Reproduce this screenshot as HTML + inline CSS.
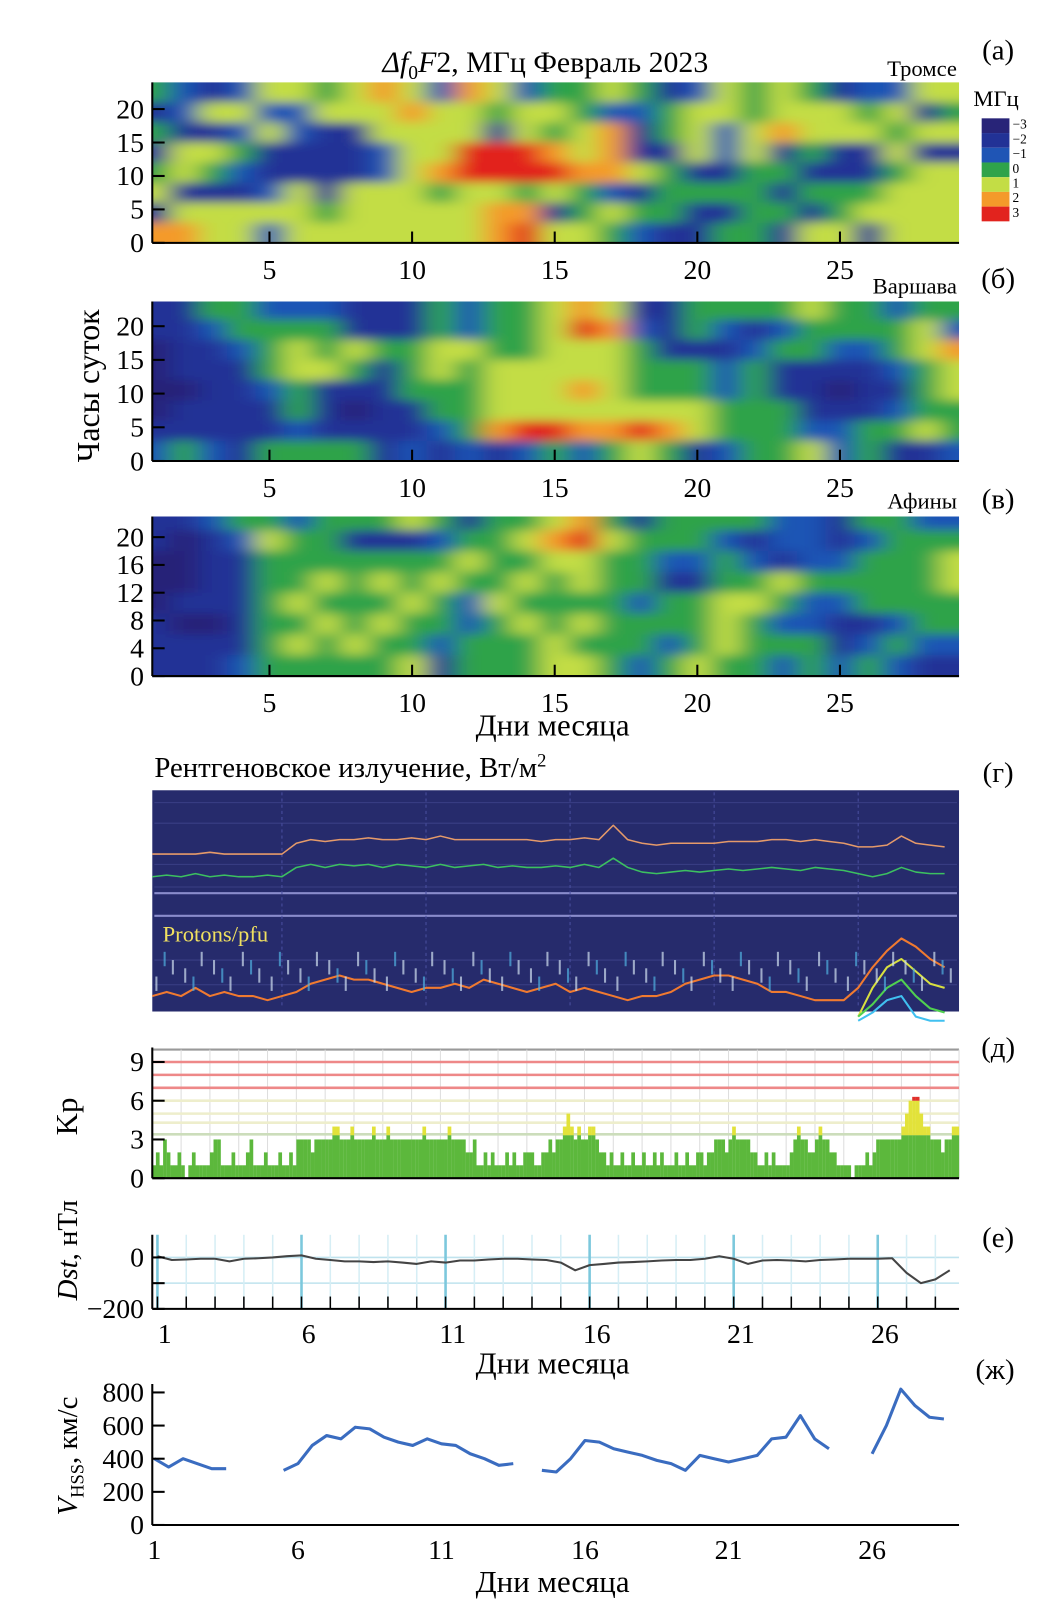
<!DOCTYPE html>
<html><head><meta charset="utf-8"><style>
body{margin:0;background:#fff;}
svg{display:block;font-family:"Liberation Serif","Noto Serif CJK SC",serif;}
</style></head><body>
<svg id="fig" width="1057" height="1610" viewBox="0 0 1057 1610">
<defs>
<filter id="blur" filterUnits="userSpaceOnUse" x="0" y="0" width="1057" height="1610"><feGaussianBlur stdDeviation="12 5"/></filter>
<clipPath id="clipA"><rect x="148" y="80" width="784" height="157"/></clipPath>
<clipPath id="clipB"><rect x="148" y="293" width="784" height="156"/></clipPath>
<clipPath id="clipC"><rect x="148" y="502" width="784" height="156"/></clipPath>
</defs>
<g id="root" transform="scale(1.029)">
<text x="530" y="70" font-size="29" text-anchor="middle"><tspan font-style="italic">Δf</tspan><tspan font-size="19" dy="7">0</tspan><tspan dy="-7" font-style="italic">F</tspan>2, МГц   Февраль 2023</text>
<text x="930" y="74" font-size="22" text-anchor="end">Тромсе</text>
<text x="970" y="58" font-size="28" text-anchor="middle">(а)</text>
<text x="930" y="285" font-size="22" text-anchor="end">Варшава</text>
<text x="970" y="280" font-size="28" text-anchor="middle">(б)</text>
<text x="930" y="494" font-size="22" text-anchor="end">Афины</text>
<text x="970" y="494" font-size="28" text-anchor="middle">(в)</text>
<text x="0" y="0" font-size="31" text-anchor="middle" transform="translate(96,375) rotate(-90)">Часы суток</text>
<text x="537" y="715" font-size="30" text-anchor="middle">Дни месяца</text>
<text x="150" y="755" font-size="28">Рентгеновское излучение, Вт/м<tspan font-size="18" dy="-10">2</tspan></text>
<text x="970" y="760" font-size="28" text-anchor="middle">(г)</text>
<text x="970" y="1027" font-size="28" text-anchor="middle">(д)</text>
<text x="0" y="0" font-size="30" text-anchor="middle" transform="translate(75,1085) rotate(-90)">Kp</text>
<text x="970" y="1212" font-size="28" text-anchor="middle">(е)</text>
<text x="0" y="0" font-size="28" text-anchor="middle" transform="translate(75,1215) rotate(-90)"><tspan font-style="italic">Dst</tspan>, нТл</text>
<text x="537" y="1335" font-size="30" text-anchor="middle">Дни месяца</text>
<text x="967" y="1340" font-size="28" text-anchor="middle">(ж)</text>
<text x="0" y="0" font-size="28" text-anchor="middle" transform="translate(75,1415) rotate(-90)"><tspan font-style="italic">V</tspan><tspan font-size="18" dy="6">HSS</tspan><tspan dy="-6">, км/с</tspan></text>
<text x="537" y="1547" font-size="30" text-anchor="middle">Дни месяца</text>
</g>
</svg>
<script>
// ---- heatmap data (rows top = hour 22.5 ... bottom = hour 1.5), columns days 1..29
const tromsoRows = [
[0,-1,-2,-1,1,1,0,1,2,1,-1,2,1,-1,0,0,1,0,-2,-1,1,0,1,0,-2,-1,-1,1,1],
[-2,-1,1,1,-1,-1,1,1,1,2,1,1,0,1,1,0,-1,-1,0,1,1,0,1,1,1,0,1,-2,0],
[0,-2,-2,-1,1,-1,-2,-2,1,1,1,1,-2,1,0,1,2,-2,0,1,-1,1,2,1,1,1,0,1,1],
[-2,1,1,0,-2,-2,-2,-2,-1,1,1,3,3,3,2,1,2,-2,-2,1,-1,1,-2,0,-2,-2,1,-2,-2],
[0,1,0,-1,-2,-2,-2,-2,-1,1,2,3,3,3,3,2,2,1,0,-2,-2,0,0,-2,-2,-2,0,1,1],
[1,-2,-2,-2,-1,1,-2,1,1,1,0,1,1,0,1,0,-1,-2,0,0,0,0,-2,0,0,0,1,1,1],
[-2,1,1,1,1,1,0,1,1,1,1,1,2,2,-2,0,1,0,0,-2,-2,0,0,-2,0,1,1,1,1],
[2,2,1,1,-1,1,1,1,1,1,1,1,2,3,1,1,0,-1,-2,-2,0,0,-2,1,1,-2,1,1,1]];
const warsawRows = [
[-2,-2,0,0,-1,-1,-1,-2,-2,-2,0,-1,0,0,1,2,1,-2,-2,0,0,0,0,1,0,0,-1,0,0],
[-2,-2,-1,0,0,0,0,-2,-2,-2,0,-1,0,0,1,3,2,-1,-2,0,-1,-2,-1,0,0,0,0,1,-1],
[-3,-2,-2,-1,0,1,0,1,0,0,1,1,0,0,1,1,1,0,-2,-2,-2,-1,0,0,-1,-1,0,1,2],
[-3,-2,-2,-2,0,1,1,0,-2,0,1,0,1,1,1,1,1,0,0,0,-1,0,-2,-2,-2,-2,-1,0,1],
[-3,-3,-2,-2,-1,0,-2,-2,-2,0,0,0,1,1,1,2,1,0,0,0,-1,0,-2,-2,-3,-2,-2,0,1],
[-3,-2,-2,-2,-2,0,-2,-3,-2,-2,0,0,1,1,1,1,1,1,1,1,0,0,0,-2,-2,-2,-1,0,0],
[-2,-2,-2,-2,-2,-1,-2,-2,-2,-2,-1,0,2,3,3,2,2,3,2,1,0,0,0,-1,-1,0,0,1,0],
[-1,0,-1,-2,0,0,0,0,-2,-1,-2,-1,-2,-1,0,-1,0,1,0,-2,-1,0,0,1,-1,0,-2,-2,-1]];
const athensRows = [
[-2,-2,-1,0,0,-1,0,0,0,1,0,-2,0,0,1,2,0,-2,0,0,0,0,-1,-1,-2,0,0,-1,-1],
[-2,-3,-2,-1,1,0,0,-2,-2,-2,-1,0,0,1,2,3,1,0,0,0,-1,-2,-1,-1,-2,-1,0,0,0],
[-3,-3,-2,-2,0,0,0,0,0,0,0,1,0,0,1,1,0,0,-1,-1,0,-1,-2,-1,-1,0,0,0,1],
[-3,-3,-2,-2,0,0,1,0,1,0,1,0,0,1,0,1,0,0,-2,-2,0,0,1,0,0,0,0,0,1],
[-3,-2,-2,-2,0,1,0,0,0,1,0,-1,1,0,0,0,0,-1,0,0,1,1,0,-1,-1,0,0,0,0],
[-2,-3,-3,-2,0,0,1,0,1,0,0,-1,0,1,0,1,0,0,0,0,1,0,-1,-1,-2,-2,-1,0,0],
[-2,-2,-2,-2,0,1,0,1,0,0,-1,0,0,0,1,0,0,0,-1,0,1,0,0,0,-2,-1,0,-1,-1],
[-2,-2,-2,-1,0,0,0,0,0,1,-2,0,0,0,1,1,0,-1,0,1,0,0,-1,0,-1,0,-1,-2,-2]];
const hmTicksA = [0,5,10,15,20];
const hmTicksC = [0,4,8,12,16,20];
const dayTicks = [5,10,15,20,25];
const cbLabels = [-3,-2,-1,0,1,2,3];
// ---- Kp (8 three-hour values per day, days 1..28)
const kpDays = [
[1,2,1,3,2,1,1,2],[1,0,1,2,1,1,1,1],[2,3,3,1,1,1,2,1],[1,1,2,3,1,1,1,2],[1,1,1,2,1,1,2,1],
[3,3,3,3,2,3,3,3],[3,3,4,4,3,3,3,4],[3,3,3,3,3,4,3,3],[3,4,3,3,3,3,3,3],[3,3,3,4,3,3,3,3],
[3,3,4,3,3,3,3,2],[2,3,1,1,2,1,2,1],[1,1,2,1,2,1,1,2],[2,2,1,1,2,2,3,2],[3,3,4,5,4,3,4,3],
[3,4,4,3,2,2,1,2],[1,1,2,1,1,2,1,1],[2,1,1,2,1,2,1,1],[1,2,1,1,2,1,1,2],[2,1,2,2,3,3,3,2],
[3,4,3,3,3,3,2,2],[1,1,2,1,2,1,1,1],[1,2,3,4,3,3,2,2],[3,4,3,3,2,2,1,1],[1,1,0,1,1,1,2,1],
[2,3,3,3,3,3,3,3],[4,5,6,6.3,6.3,5,4,4],[3,3,3,2,3,3,4,4]];
const kpTicks = [0,3,6,9];
// ---- Dst (half-day values, nT)
const dstVals = [5,-10,-8,-5,-5,-15,-5,-3,0,5,8,-5,-10,-15,-15,-18,-15,-20,-25,-15,-20,-12,-12,-8,-5,-5,-8,-10,-20,-50,-30,-25,-20,-18,-15,-12,-10,-10,-5,5,-5,-25,-12,-10,-12,-15,-10,-8,-5,-5,-5,-3,-60,-100,-85,-50];
const dstTicks = [0,-200];
const dayTicks2 = [1,6,11,16,21,26];
// ---- Solar wind speed (half-day values, km/s; null = gap)
const vVals = [400,350,400,370,340,340,null,null,null,330,370,480,540,520,590,580,530,500,480,520,490,480,430,400,360,370,null,330,320,400,510,500,460,440,420,390,370,330,420,400,380,400,420,520,530,660,520,460,null,null,430,600,820,720,650,640];
const vTicks = [0,200,400,600,800];
// ---- X-ray / protons (log10 values, half-day)
const xLong = [-6.4,-6.4,-6.4,-6.4,-6.35,-6.4,-6.4,-6.4,-6.4,-6.4,-6.1,-6.0,-6.05,-6.0,-6.0,-5.95,-6.0,-6.0,-5.95,-6.0,-5.9,-6.0,-6.0,-6.0,-6.0,-6.0,-6.0,-6.05,-6.0,-6.0,-5.95,-6.0,-5.6,-6.0,-6.1,-6.15,-6.1,-6.1,-6.1,-6.1,-6.05,-6.05,-6.05,-6.0,-6.0,-6.05,-6.0,-6.05,-6.1,-6.2,-6.2,-6.15,-5.9,-6.1,-6.15,-6.2];
const xShort = [-7.6,-7.55,-7.6,-7.5,-7.6,-7.55,-7.6,-7.6,-7.55,-7.6,-7.3,-7.2,-7.3,-7.2,-7.25,-7.2,-7.3,-7.2,-7.25,-7.3,-7.2,-7.3,-7.25,-7.2,-7.3,-7.25,-7.3,-7.3,-7.25,-7.3,-7.2,-7.3,-7.0,-7.3,-7.45,-7.5,-7.45,-7.4,-7.45,-7.4,-7.35,-7.4,-7.35,-7.3,-7.35,-7.4,-7.3,-7.35,-7.4,-7.5,-7.6,-7.5,-7.3,-7.45,-7.5,-7.5];
const protons = [0.1,0.2,0.1,0.3,0.1,0.2,0.1,0.1,0,0.1,0.2,0.4,0.5,0.6,0.5,0.5,0.4,0.3,0.2,0.3,0.3,0.4,0.3,0.5,0.4,0.3,0.2,0.3,0.4,0.2,0.3,0.2,0.1,0,0.1,0.1,0.2,0.4,0.5,0.6,0.6,0.5,0.4,0.2,0.2,0.1,0,0,0,0.3,0.8,1.2,1.5,1.3,1.0,0.8];
const protonsHiT = [25.5,26,26.5,27,27.5,28,28.5];
const protonsHi1 = [-0.4,0.3,0.8,1.0,0.7,0.4,0.3];
const protonsHi2 = [-0.4,-0.1,0.3,0.5,0.1,-0.2,-0.3];
const protonsHi3 = [-0.5,-0.3,0.0,0.1,-0.4,-0.5,-0.5];

const NS='http://www.w3.org/2000/svg';
const root=document.getElementById('root');
function mk(tag,attrs,parent){const e=document.createElementNS(NS,tag);for(const k in attrs)e.setAttribute(k,attrs[k]);(parent||root).appendChild(e);return e;}
function txt(x,y,s,size,anchor,parent){const t=mk('text',{x:x,y:y,'font-size':size,'text-anchor':anchor||'middle'},parent);t.textContent=s;return t;}

const stops=[[-3,[40,36,120]],[-2,[34,50,150]],[-1,[31,85,181]],[0,[47,163,74]],[0.7,[150,205,60]],[1.2,[225,232,75]],[2,[244,154,42]],[3,[226,35,30]]];
function cmap(v){v=Math.max(-3,Math.min(3,v));for(let i=0;i<stops.length-1;i++){const a=stops[i],b=stops[i+1];if(v<=b[0]){const f=(v-a[0])/(b[0]-a[0]);const c=a[1].map((x,j)=>Math.round(x+(b[1][j]-x)*f));return 'rgb('+c.join(',')+')';}}return 'rgb(226,35,30)';}

const hx=d=>151+(d-1)*27.72;
function heatmap(name,rows,clip,top,y0,y1,ticks,pxPerH){
  const g=mk('g',{'clip-path':'url(#'+clip+')'});
  
  
  const gb=mk('g',{filter:'url(#blur)'},g);
  const nR=rows.length,h=(y0-top)/nR;
  rows.forEach((row,r)=>{row.forEach((v,c)=>{
    let x=hx(c+1)-13.86,w=27.72,y=top+r*h,hh=h;
    if(c===0){x-=40;w+=40;} if(c===row.length-1)w+=40;
    if(r===0){y-=30;hh+=30;} if(r===nR-1)hh+=30;
    const cell=mk('rect',{x:x,y:y,width:w+0.6,height:hh+0.6,fill:cmap(v)},gb);
    
    
  });});
  mk('line',{x1:148,y1:y1,x2:148,y2:y0,stroke:'#000','stroke-width':2});
  mk('line',{x1:148,y1:y0,x2:932,y2:y0,stroke:'#000','stroke-width':2});
  ticks.forEach(t=>{const y=y0-t*pxPerH;mk('line',{x1:148,y1:y,x2:160,y2:y,stroke:'#000','stroke-width':2});
    const l=txt(140,y+9,String(t),27,'end');});
  dayTicks.forEach(d=>{const x=hx(d);mk('line',{x1:x,y1:y0,x2:x,y2:y0-11,stroke:'#000','stroke-width':2});
    const l=txt(x,y0+35,String(d),27);});
}
heatmap('tromso',tromsoRows,'clipA',80,236,80,hmTicksA,6.5);
heatmap('warsaw',warsawRows,'clipB',291,448,293,hmTicksA,6.55);
heatmap('athens',athensRows,'clipC',495,657,502,hmTicksC,6.75);

// colorbar
const cb=mk('g',{});


txt(968,103,'МГц',22,'middle',cb);
cbLabels.forEach((v,i)=>{const y=115+i*14.3;mk('rect',{x:954,y:y,width:27,height:14.3,fill:cmap(v)},cb);
  txt(984,y+10,v<0?'−'+(-v):String(v),13,'start',cb);});

// X-ray panel
const xx=t=>148+(t-1)*28;
const xr=mk('g',{});


mk('rect',{x:148,y:768,width:784,height:215,fill:'#262b6c'},xr);
[780,800,840,862,933,957].forEach(y=>mk('line',{x1:150,y1:y,x2:930,y2:y,stroke:'#3a3f85','stroke-width':1},xr));
[868,890].forEach(y=>mk('line',{x1:150,y1:y,x2:930,y2:y,stroke:'#8a8ccc','stroke-width':2},xr));
[6,11,16,21,26].forEach(d=>mk('line',{x1:xx(d)-14,y1:770,x2:xx(d)-14,y2:980,stroke:'#4a4fa0','stroke-width':1,'stroke-dasharray':'3 3'},xr));
function poly(vals,fx,fy,col,w,parent,name){let d='';let pen=false;vals.forEach((v,i)=>{if(v===null){pen=false;return;}d+=(pen?'L':'M')+fx(i).toFixed(1)+' '+fy(v).toFixed(1);pen=true;});
  const p=mk('path',{d:d,fill:'none',stroke:col,'stroke-width':w,'stroke-linejoin':'round'},parent);return p;}
poly(xLong,i=>xx(1+i/2),v=>830-(v+6.4)*35,'#e59a6a',1.5,xr,'xray-long-line');
poly(xShort,i=>xx(1+i/2),v=>852-(v+7.6)*30,'#3cc060',1.5,xr,'xray-short-line');
poly(protons,i=>xx(1+i/2),v=>972-v*40,'#f07a30',2,xr,'proton-line');
poly(protonsHi1,i=>xx(protonsHiT[i]),v=>972-v*40,'#d8e040',2,xr,'proton-line-2');
poly(protonsHi2,i=>xx(protonsHiT[i]),v=>972-v*40,'#50d050',2,xr,'proton-line-3');
poly(protonsHi3,i=>xx(protonsHiT[i]),v=>972-v*40,'#40c0f0',2,xr,'proton-line-4');
const pl=txt(158,915,'Protons/pfu',22,'start',xr);pl.setAttribute('fill','#f0e060');


for(let d=1;d<29;d++){for(let k=0;k<3;k++){mk('rect',{x:xx(d)+k*8+3,y:925+((d*3+k)%4)*8,width:2,height:14,fill:(k%2?'#50b0e0':'#d0e0f0'),opacity:0.7},xr);}}

// Kp panel
const kx=i=>148+i*3.5, ky=v=>1145-v*12.55;
const kp=mk('g',{});


mk('line',{x1:148,y1:1020,x2:932,y2:1020,stroke:'#999','stroke-width':2},kp);
for(let d=0;d<=28;d++)mk('line',{x1:148+d*28,y1:1020,x2:148+d*28,y2:1145,stroke:'#ddd','stroke-width':1},kp);
[[9,'#e88'],[8,'#e88'],[7,'#e88'],[6,'#eec'],[5,'#eec'],[4.3,'#eec'],[3.4,'#cdb']].forEach(([v,c])=>mk('line',{x1:148,y1:ky(v),x2:932,y2:ky(v),stroke:c,'stroke-width':2.5},kp));
kpDays.forEach((day,d)=>day.forEach((v,k)=>{const i=d*8+k,x=kx(i);
  const gv=Math.min(v,3.33);
  const b=mk('rect',{x:x,y:ky(gv),width:3.6,height:ky(0)-ky(gv),fill:'#5cb83c'},kp);
  
  
  if(v>3.33){const yv=Math.min(v,6);mk('rect',{x:x,y:ky(yv),width:3.6,height:ky(3.33)-ky(yv),fill:'#e2e23a'},kp);}
  if(v>6){mk('rect',{x:x,y:ky(v),width:3.6,height:ky(6)-ky(v),fill:'#e0302a'},kp);}
}));
mk('line',{x1:148,y1:1145,x2:932,y2:1145,stroke:'#000','stroke-width':2},kp);
mk('line',{x1:148,y1:1018,x2:148,y2:1145,stroke:'#000','stroke-width':2},kp);
kpTicks.forEach(t=>{mk('line',{x1:148,y1:ky(t),x2:160,y2:ky(t),stroke:'#000','stroke-width':2},kp);
  const l=txt(140,ky(t)+9,String(t),27,'end',kp);});

// Dst panel
const dx=t=>153+(t-1)*28, dy=v=>1222-v*0.25;
const dst=mk('g',{});


mk('line',{x1:148,y1:dy(0),x2:932,y2:dy(0),stroke:'#bfe3ee','stroke-width':1.5},dst);
mk('line',{x1:148,y1:dy(-100),x2:932,y2:dy(-100),stroke:'#bfe3ee','stroke-width':1.5},dst);
for(let d=1;d<=28;d++){const x=dx(d);mk('line',{x1:x,y1:1200,x2:x,y2:1272,stroke:(d%5===1?'#7cc8dc':'#d6eef5'),'stroke-width':d%5===1?2.5:1.5},dst);
  mk('line',{x1:x,y1:1272,x2:x,y2:1260,stroke:'#000','stroke-width':1.5},dst);}
poly(dstVals,i=>dx(1+i/2),dy,'#444',2,dst,'dst-line');
mk('line',{x1:148,y1:1200,x2:148,y2:1272,stroke:'#000','stroke-width':2},dst);
mk('line',{x1:148,y1:1272,x2:932,y2:1272,stroke:'#000','stroke-width':2},dst);
mk('line',{x1:148,y1:dy(-100),x2:160,y2:dy(-100),stroke:'#000','stroke-width':2},dst);
dstTicks.forEach(t=>{mk('line',{x1:148,y1:dy(t),x2:160,y2:dy(t),stroke:'#000','stroke-width':2},dst);
  const l=txt(140,dy(t)+9,t<0?'−'+(-t):String(t),27,'end',dst);});
dayTicks2.forEach(d=>{const l=txt(dx(d)+7,1305,String(d),27,'middle',dst);});

// V panel
const vx=t=>150+(t-1)*27.9, vy=v=>1482-v*0.161;
const vp=mk('g',{});


poly(vVals,i=>vx(1+i/2),vy,'#3a6cc0',3,vp,'velocity-line');
mk('line',{x1:148,y1:1345,x2:148,y2:1482,stroke:'#000','stroke-width':2},vp);
mk('line',{x1:148,y1:1482,x2:932,y2:1482,stroke:'#000','stroke-width':2},vp);
vTicks.forEach(t=>{mk('line',{x1:148,y1:vy(t),x2:160,y2:vy(t),stroke:'#000','stroke-width':2},vp);
  const l=txt(140,vy(t)+9,String(t),27,'end',vp);});
dayTicks2.forEach(d=>{const l=txt(vx(d),1515,String(d),27,'middle',vp);});
</script>
</body></html>
